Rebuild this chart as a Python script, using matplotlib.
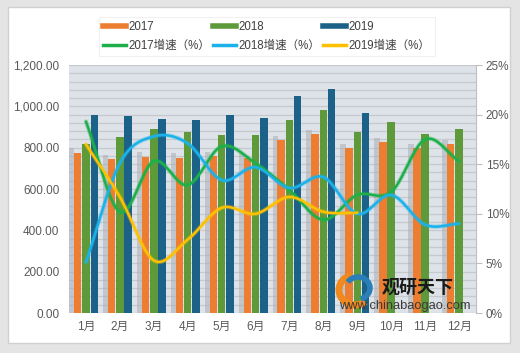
import numpy as np
import matplotlib
matplotlib.use("Agg")
import matplotlib.pyplot as plt
from matplotlib.patches import Rectangle, Arc
from matplotlib.lines import Line2D
from matplotlib.ticker import FuncFormatter, MultipleLocator

plt.rcParams['font.family'] = ['Liberation Sans', 'Noto Sans CJK SC', 'DejaVu Sans']

# data
months = ['1月', '2月', '3月', '4月', '5月', '6月', '7月', '8月', '9月', '10月', '11月', '12月']
v2017 = [776, 743, 757, 752, 761, 752, 837, 865, 797, 829, 797, 816]
v2018 = [816, 851, 890, 877, 863, 859, 936, 982, 874, 926, 864, 890]
v2019 = [956, 951, 940, 936, 956, 945, 1051, 1082, 966]
g2017 = [19.3, 10.2, 15.3, 12.9, 16.8, 15.1, 12.4, 9.4, 11.9, 12.2, 17.5, 15.3]
g2018 = [5.1, 15.1, 17.8, 17.1, 13.4, 14.7, 12.6, 13.7, 10.0, 11.9, 8.9, 9.0]
g2019 = [17.0, 11.7, 5.3, 7.4, 10.6, 10.0, 11.7, 10.2, 10.1]

c17, c18, c19 = '#ED7D31', '#5F9A3A', '#1C6187'
l17, l18, l19 = '#1DB04A', '#1BB2EA', '#FFC000'


def smooth(x, y, n=20):
    # catmull-rom curve through the points (like excel "smoothed line")
    x = np.asarray(x, float)
    y = np.asarray(y, float)
    px = np.concatenate([[2 * x[0] - x[1]], x, [2 * x[-1] - x[-2]]])
    py = np.concatenate([[2 * y[0] - y[1]], y, [2 * y[-1] - y[-2]]])
    xs, ys = [], []
    t = np.linspace(0, 1, n, endpoint=False)
    for i in range(1, len(px) - 2):
        for p, out in ((px, xs), (py, ys)):
            p0, p1, p2, p3 = p[i - 1], p[i], p[i + 1], p[i + 2]
            out.extend(0.5 * ((2 * p1) + (-p0 + p2) * t +
                              (2 * p0 - 5 * p1 + 4 * p2 - p3) * t ** 2 +
                              (-p0 + 3 * p1 - 3 * p2 + p3) * t ** 3))
    xs.append(x[-1])
    ys.append(y[-1])
    return np.array(xs), np.array(ys)


fig = plt.figure(figsize=(5.2, 3.53), dpi=100)
fig.patch.set_facecolor('#e4e4e4')
frame = Rectangle((8 / 520, 10 / 353), 502 / 520, 336 / 353,
                  transform=fig.transFigure, facecolor='white',
                  edgecolor='#d0d0d0', lw=1, zorder=-5)
fig.patches.append(frame)

ax = fig.add_axes([69 / 520, 40 / 353, 407 / 520, 248 / 353])
ax.set_facecolor('#dde3e9')
x = np.arange(1, 13)
w = 0.22

# soft grey shadow behind the first bar of each month
ax.bar(x - 0.42, [v + 20 for v in v2017], 0.16, color='#a7abb0', alpha=0.5, zorder=1)
ax.bar(x - 0.245, v2017, w, color=c17, zorder=2, label='2017')
ax.bar(x, v2018, w, color=c18, zorder=2, label='2018')
ax.bar(x[:len(v2019)] + 0.245, v2019, w, color=c19, zorder=2, label='2019')

ax.set_xlim(0.5, 12.5)
ax.set_ylim(0, 1200)
ax.yaxis.set_major_locator(MultipleLocator(200))
ax.yaxis.set_minor_locator(MultipleLocator(40))
ax.yaxis.set_major_formatter(FuncFormatter(lambda v, p: f'{v:,.2f}'))
ax.grid(axis='y', which='both', color='#c6cacf', lw=0.9, zorder=0)
ax.set_axisbelow(True)
ax.set_xticks(x)
ax.set_xticklabels(months)
for s in ax.spines.values():
    s.set_visible(False)
ax.tick_params(axis='both', which='both', length=0, colors='#595959', labelsize=8.5)
ax.tick_params(axis='y', pad=7)
ax.tick_params(axis='x', pad=6)

ax2 = ax.twinx()
ax2.set_ylim(0, 25)
ax2.yaxis.set_major_locator(MultipleLocator(5))
ax2.yaxis.set_major_formatter(FuncFormatter(lambda v, p: f'{v:.0f}%'))
for s in ['top', 'left', 'bottom']:
    ax2.spines[s].set_visible(False)
ax2.spines['right'].set_color('#bfbfbf')
ax2.tick_params(axis='y', length=4, color='#bfbfbf', colors='#595959', labelsize=8.5, pad=3)

for vals, col, lab in ((g2017, l17, '2017增速（%）'), (g2018, l18, '2018增速（%）'),
                       (g2019, l19, '2019增速（%）')):
    sx, sy = smooth(np.arange(1, len(vals) + 1), vals)
    ax2.plot(sx, sy, color=col, lw=3.2, alpha=0.3, solid_capstyle='round', zorder=3)
    ax2.plot(sx, sy, color=col, lw=1.8, solid_capstyle='round', zorder=4, label=lab)

handles = [
    Line2D([], [], color=c17, lw=4), Line2D([], [], color=l17, lw=2.5),
    Line2D([], [], color=c18, lw=4), Line2D([], [], color=l18, lw=2.5),
    Line2D([], [], color=c19, lw=4), Line2D([], [], color=l19, lw=2.5),
]
labels = ['2017', '2017增速（%）', '2018', '2018增速（%）', '2019', '2019增速（%）']
leg = fig.legend(handles, labels, ncol=3, loc='upper left',
                 bbox_to_anchor=(93 / 520, 1 - 11 / 353), fontsize=8.3,
                 frameon=True, fancybox=False, handlelength=2.0,
                 handletextpad=0.15, columnspacing=0.3, labelspacing=0.55,
                 borderpad=0.4)
leg.get_frame().set_edgecolor('#eeeeee')
leg.get_frame().set_linewidth(0.8)
for t in leg.get_texts():
    t.set_color('#404040')

# watermark
fig.patches.append(Arc((355 / 520, 1 - 290 / 353), 32 / 520, 30 / 353, theta1=100, theta2=300,
                       transform=fig.transFigure, color='#F08A1E', lw=5, zorder=5))
fig.patches.append(Arc((358 / 520, 1 - 288 / 353), 24 / 520, 22 / 353, theta1=-80, theta2=140,
                       transform=fig.transFigure, color='#2A7FB8', lw=4, zorder=5))
fig.text(382 / 520, 1 - 287 / 353, '观研天下', fontsize=13, fontweight='bold',
         color='#1a1a1a', va='center', ha='left', family=['Noto Sans CJK SC'], zorder=6)
fig.text(405 / 520, 1 - 306 / 353, 'www.chinabaogao.com', fontsize=9.3, color='#3a3a3a',
         va='center', ha='center', zorder=6)

fig.savefig('out.png', dpi=100, facecolor=fig.get_facecolor())
